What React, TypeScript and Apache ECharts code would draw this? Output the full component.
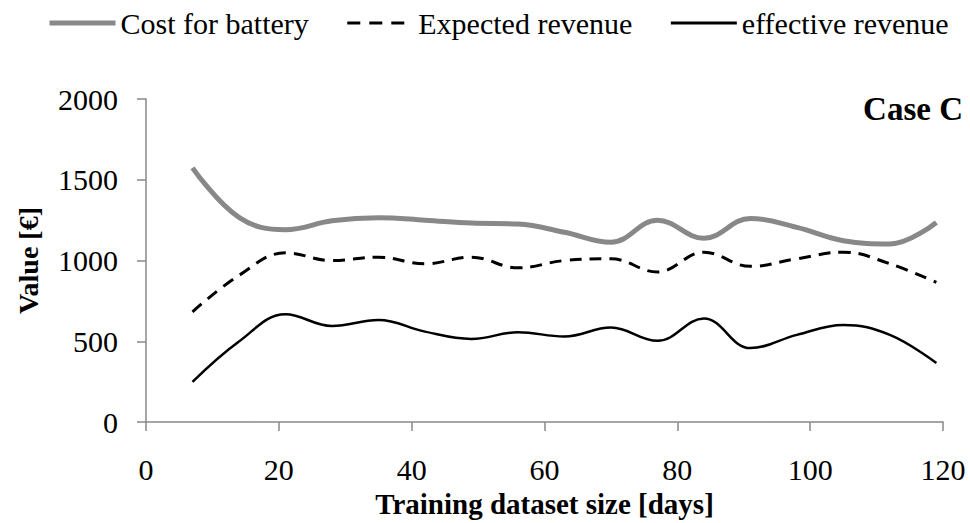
import React, { useEffect, useRef } from "react";
import * as echarts from "echarts";

const days = [7, 14, 21, 28, 35, 42, 49, 56, 63, 70, 77, 84, 91, 98, 105, 112, 119];
const costForBattery = [1574, 1267, 1191, 1246, 1265, 1250, 1232, 1226, 1175, 1113, 1250, 1138, 1261, 1205, 1123, 1103, 1236];
const expectedRevenue = [683, 908, 1048, 1000, 1021, 980, 1021, 955, 1000, 1011, 929, 1052, 964, 1011, 1052, 980, 865];
const effectiveRevenue = [249, 499, 667, 595, 632, 560, 515, 556, 530, 585, 503, 642, 458, 540, 601, 540, 366];

const seriesNames = ["Cost for battery", "Expected revenue", "effective revenue"];
const FONT = "Liberation Serif";

const pairs = (vals: number[]) => days.map((d, i) => [d, vals[i]]);

export default function App() {
  const ref = useRef<HTMLDivElement>(null);
  useEffect(() => {
    if (!ref.current) return;
    const chart = echarts.init(ref.current, undefined, { renderer: "svg" });
    chart.setOption({
      animation: false,
      backgroundColor: "#ffffff",
      textStyle: { fontFamily: FONT, color: "#000" },
      legend: {
        left: 42,
        top: 3,
        itemWidth: 66,
        itemHeight: 10,
        itemGap: 37,
        itemStyle: { opacity: 0 },
        textStyle: { fontFamily: FONT, fontSize: 30, color: "#000" },
        data: [
          { name: seriesNames[0], lineStyle: { width: 5, color: "#888888" } },
          { name: seriesNames[1], lineStyle: { width: 3, color: "#000", type: [13, 9] } },
          { name: seriesNames[2], lineStyle: { width: 3, color: "#000" } },
        ],
      },
      grid: { left: 146, right: 27, top: 99, bottom: 98.5, containLabel: false },
      xAxis: {
        type: "value",
        min: 0,
        max: 120,
        interval: 20,
        name: "Training dataset size [days]",
        nameLocation: "middle",
        nameGap: 66,
        nameTextStyle: { fontFamily: FONT, fontSize: 29, fontWeight: "bold", color: "#000" },
        axisLine: { show: true, onZero: false, lineStyle: { color: "#888", width: 1.5 } },
        axisTick: { show: true, inside: false, length: 9, lineStyle: { color: "#888", width: 1.5 } },
        axisLabel: { fontFamily: FONT, fontSize: 30, color: "#000", margin: 32 },
        splitLine: { show: false },
      },
      yAxis: {
        type: "value",
        min: 0,
        max: 2000,
        interval: 500,
        name: "Value [€]",
        nameLocation: "middle",
        nameGap: 104,
        nameTextStyle: { fontFamily: FONT, fontSize: 28, fontWeight: "bold", color: "#000" },
        axisLine: { show: true, lineStyle: { color: "#888", width: 1.5 } },
        axisTick: { show: true, inside: false, length: 9, lineStyle: { color: "#888", width: 1.5 } },
        axisLabel: {
          fontFamily: FONT,
          fontSize: 30,
          color: "#000",
          margin: 28,
          formatter: (v: number) => String(v),
        },
        splitLine: { show: false },
      },
      graphic: [
        {
          type: "text",
          right: 7,
          top: 92,
          style: { text: "Case C", fontFamily: FONT, fontSize: 33, fontWeight: "bold", fill: "#000" },
        },
      ],
      series: [
        {
          name: seriesNames[0],
          type: "line",
          smooth: 0.4,
          symbol: "none",
          data: pairs(costForBattery),
          itemStyle: { color: "#888888" },
          lineStyle: { color: "#888888", width: 5 },
        },
        {
          name: seriesNames[1],
          type: "line",
          smooth: 0.4,
          symbol: "none",
          data: pairs(expectedRevenue),
          itemStyle: { color: "#000" },
          lineStyle: { color: "#000", width: 3, type: [12, 8] },
        },
        {
          name: seriesNames[2],
          type: "line",
          smooth: 0.4,
          symbol: "none",
          data: pairs(effectiveRevenue),
          itemStyle: { color: "#000" },
          lineStyle: { color: "#000", width: 2.5 },
        },
      ],
    });
    return () => chart.dispose();
  }, []);
  return (
    <div
      ref={ref}
      style={{ position: "fixed", left: 0, top: 0, width: 970, height: 523, background: "#fff" }}
    />
  );
}
